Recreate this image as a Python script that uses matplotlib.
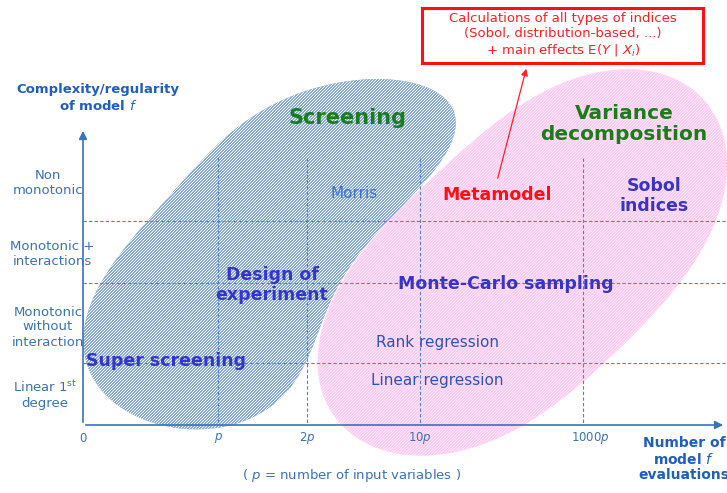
import numpy as np
import matplotlib.pyplot as plt
from matplotlib.patches import Polygon, Rectangle
from matplotlib.collections import LineCollection

plt.rcParams['font.family'] = ['DejaVu Sans']

# axis categories
y_levels = ['Non\nmonotonic', 'Monotonic +\ninteractions',
            'Monotonic\nwithout\ninteraction', 'Linear 1$^{\\mathrm{st}}$\ndegree']
x_ticks = ['0', '$p$', '$2p$', '$10p$', '$1000p$']

# method labels
big_labels = ['Screening', 'Variance\ndecomposition']
bold_labels = ['Design of\nexperiment', 'Monte-Carlo sampling', 'Sobol\nindices', 'Super screening']
small_labels = ['Rank regression', 'Linear regression']

# outlines of the two regions (pixels, y down)
blue_x = [250, 285, 330, 390, 430, 455, 465, 458, 430, 390, 360, 335, 322, 317,
          295, 250, 195, 150, 112, 90, 86, 95, 118, 143, 200]
blue_y = [122, 100, 88, 83, 85, 97, 120, 145, 180, 212, 245, 280, 325, 365,
          392, 410, 423, 421, 403, 372, 343, 300, 250, 221, 163]
pink_x = [593, 643, 693, 717, 725, 723, 715, 700, 680, 640, 600, 560, 533, 470,
          400, 345, 322, 318, 330, 360, 400, 463, 530]
pink_y = [77, 70, 83, 113, 150, 183, 223, 250, 283, 330, 363, 400, 425, 445,
          448, 437, 400, 363, 310, 260, 205, 150, 100]

# layout (pixels)
ox, oy = 83, 425
ytick_pos = [183, 254, 327, 395]
ylab_x = [48, 52, 48, 45]
xtick_pos = [83, 218, 307, 420, 590]
hlines = [221, 283, 363]
vlines = [218, 307, 420, 583]

blue = '#2a6cbf'
axcol = '#3a72bb'
purple = '#3535c8'
green = '#1a7d1a'


def smooth_outline(xs, ys, k=3, n=400):
    # low order Fourier fit of the closed outline -> smooth blob
    P = np.column_stack([xs, ys]).astype(float)
    d = np.hypot(*np.diff(np.vstack([P, P[:1]]), axis=0).T)
    t = 2 * np.pi * np.concatenate([[0], np.cumsum(d)[:-1]]) / d.sum()

    def basis(tt):
        cols = [np.ones_like(tt)]
        for j in range(1, k + 1):
            cols += [np.cos(j * tt), np.sin(j * tt)]
        return np.column_stack(cols)

    coef, *_ = np.linalg.lstsq(basis(t), P, rcond=None)
    return basis(np.linspace(0, 2 * np.pi, n)) @ coef


def striped(ax, pts, face, stripe, z, lw):
    patch = Polygon(pts, closed=True, facecolor=face, edgecolor='none', zorder=z)
    ax.add_patch(patch)
    segs = [[(0, c), (727, c - 727)] for c in np.arange(0, 1300, 3.0)]
    lc = LineCollection(segs, colors=stripe, linewidths=lw, zorder=z)
    ax.add_collection(lc)
    lc.set_clip_path(patch)


fig = plt.figure(figsize=(7.27, 4.93), dpi=100)
ax = fig.add_axes([0, 0, 1, 1])
ax.set_xlim(0, 727)
ax.set_ylim(493, 0)
ax.axis('off')

# pink region (variance decomposition), blue region (screening)
striped(ax, smooth_outline(pink_x, pink_y), '#ffc2ee', '#ffe8f9', 1, 0.8)
striped(ax, smooth_outline(blue_x, blue_y), blue, 'white', 2, 0.95)

# dashed grid
for y in hlines:
    ax.plot([ox, 727], [y, y], color='#4f82c8', lw=0.8, ls=(0, (3, 2)), zorder=3)
for x in vlines:
    ax.plot([x, x], [158, oy], color='#4f82c8', lw=0.8, ls=(0, (3, 2)), zorder=3)

# axes arrows
ax.annotate('', xy=(ox, 128), xytext=(ox, oy),
            arrowprops=dict(arrowstyle='-|>', color=axcol, lw=1.2, mutation_scale=12), zorder=4)
ax.annotate('', xy=(726, oy), xytext=(ox, oy),
            arrowprops=dict(arrowstyle='-|>', color=axcol, lw=1.2, mutation_scale=12), zorder=4)

for lab, x, y in zip(y_levels, ylab_x, ytick_pos):
    ax.text(x, y, lab, ha='center', va='center', fontsize=9.5, color=axcol, linespacing=1.2)
for lab, x in zip(x_ticks, xtick_pos):
    ax.text(x, 438, lab, ha='center', va='center', fontsize=8.5, color=axcol)

ax.text(98, 98, 'Complexity/regularity\nof model $f$', ha='center', va='center',
        fontsize=9.5, fontweight='bold', color='#1f5fbf', linespacing=1.3)
ax.text(684, 459, 'Number of\nmodel $f$\nevaluations', ha='center', va='center',
        fontsize=10, fontweight='bold', color='#1f5fbf', linespacing=1.12)
ax.text(352, 476, '( $p$ = number of input variables )', ha='center', va='center',
        fontsize=9.5, color=axcol)

# region titles
ax.text(347, 118, big_labels[0], ha='center', va='center', fontsize=15,
        fontweight='bold', color=green, zorder=5)
ax.text(624, 124, big_labels[1], ha='center', va='center', fontsize=14.5,
        fontweight='bold', color=green, linespacing=1.15, zorder=5)

for lab, (x, y) in zip(bold_labels, [(272, 285), (506, 284), (654, 196), (166, 361)]):
    ax.text(x, y, lab, ha='center', va='center', fontsize=12.5, fontweight='bold',
            color=purple, linespacing=1.1, zorder=5)

ax.text(497, 195, 'Metamodel', ha='center', va='center', fontsize=12.5,
        fontweight='bold', color='#ff1010', zorder=5)
ax.text(354, 193, 'Morris', ha='center', va='center', fontsize=11,
        color='#3a6fd0', zorder=5)
for lab, y in zip(small_labels, [343, 380]):
    ax.text(437, y, lab, ha='center', va='center', fontsize=11, color='#2a55b8', zorder=5)

# red box
ax.add_patch(Rectangle((422, 8), 281, 55, facecolor='white', edgecolor='#ff1010',
                       lw=2.2, zorder=5))
ax.text(563, 35, 'Calculations of all types of indices\n(Sobol, distribution-based, ...)\n'
        '+ main effects E($Y$ | $X_i$)', ha='center', va='center', fontsize=9.5,
        color='#ff2020', linespacing=1.15, zorder=6)
ax.annotate('', xy=(527, 66), xytext=(497, 181),
            arrowprops=dict(arrowstyle='-|>', color='#ff2020', lw=0.9, mutation_scale=10), zorder=6)

fig.savefig('out.png', dpi=100)
